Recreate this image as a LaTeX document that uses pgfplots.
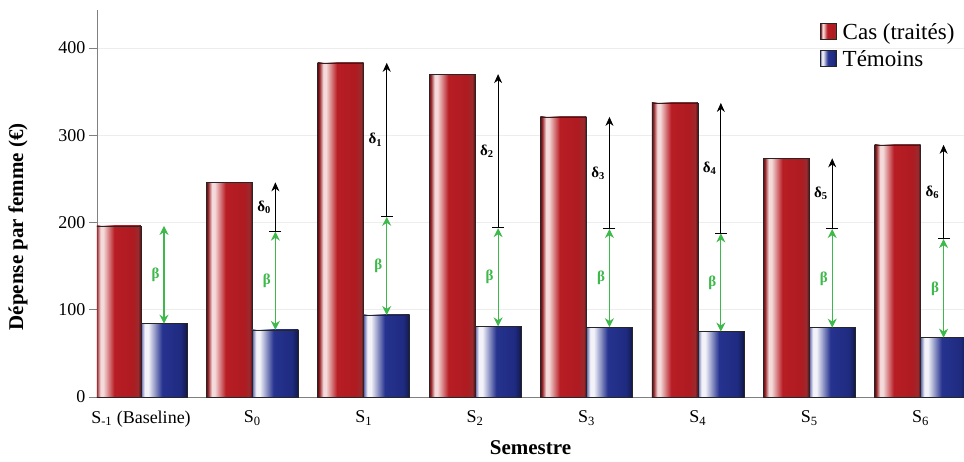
\documentclass[border=0pt]{standalone}
\usepackage{fontspec}
\setmainfont{Liberation Serif}
\usepackage{pgfplots}
\pgfplotsset{compat=1.18}
\usepackage{pgfplotstable}
\usetikzlibrary{arrows.meta}

\definecolor{rdark}{HTML}{5A0B0E}
\definecolor{rmid}{HTML}{9A2A2E}
\definecolor{rlight}{HTML}{F4DADA}
\definecolor{rmain}{HTML}{B81D24}
\definecolor{rmain2}{HTML}{AE1B21}
\definecolor{bdark}{HTML}{0E1548}
\definecolor{bmid}{HTML}{5A62A8}
\definecolor{blight}{HTML}{F2F2F8}
\definecolor{bmain}{HTML}{26338F}
\definecolor{bmain2}{HTML}{1F2B80}
\definecolor{grn}{HTML}{3DB84A}

\pgfdeclarehorizontalshading{redbar}{100bp}{color(0bp)=(rdark); color(25bp)=(rdark); color(27bp)=(rmid); color(31bp)=(rlight); color(34bp)=(rlight); color(46bp)=(rmain); color(66bp)=(rmain2); color(72bp)=(rmid); color(75bp)=(rdark); color(100bp)=(rdark)}
\pgfdeclarehorizontalshading{bluebar}{100bp}{color(0bp)=(bdark); color(25bp)=(bmid); color(29bp)=(blight); color(33bp)=(blight); color(48bp)=(bmain); color(68bp)=(bmain2); color(73bp)=(bmain2!70!black); color(75bp)=(bdark); color(100bp)=(bdark)}

\pgfplotstableread{
x y v
0.2066 84 112
1.2066 77 112.5
2.2066 94 112.5
3.2066 81 112.5
4.2066 80 112.5
5.2066 75 112.5
6.2066 79.5 113
7.2066 68 113
}\betatab

\pgfplotstableread{
x y v lab
1.2066 189.5 56.5 0
2.2066 206.5 176.5 1
3.2066 193.5 176.5 2
4.2066 192.5 128.5 3
5.2066 187.5 149.5 4
6.2066 192.5 81 5
7.2066 181 108 6
}\deltatab

\pgfplotsset{
  casbar/.style={ybar, bar width=46pt, bar shift=-23pt, draw=black!85, line width=0.5pt, shade, shading=redbar},
  tembar/.style={ybar, bar width=46pt, bar shift=23pt, draw=black!85, line width=0.5pt, shade, shading=bluebar},
}
\newcommand{\cas}[2]{\addplot[casbar, forget plot] coordinates {(#1,#2)};}
\newcommand{\tem}[2]{\addplot[tembar, forget plot] coordinates {(#1,#2)};}

\begin{document}
\begin{tikzpicture}
\begin{axis}[
  scale only axis, width=867pt, height=387pt,
  at={(0,0)}, anchor=south west,
  xmin=-0.395, xmax=7.39, ymin=0, ymax=443.5,
  axis x line=bottom, axis y line=left,
  axis line style={-, draw=black!50, line width=0.6pt},
  xtick={0,...,7},
  xticklabels={S\textsubscript{-1} (Baseline),S\textsubscript{0},S\textsubscript{1},S\textsubscript{2},S\textsubscript{3},S\textsubscript{4},S\textsubscript{5},S\textsubscript{6}},
  xtick style={draw=none},
  ytick={0,100,200,300,400},
  ytick style={draw=black!50, line width=0.6pt},
  tick align=outside, major tick length=8pt,
  ymajorgrids, grid style={draw=black!7, line width=0.6pt},
  tick label style={font=\fontsize{18}{20}\selectfont},
  /pgf/number format/assume math mode=true,
  xticklabel style={yshift=-2pt},
  xlabel={\textbf{Semestre}},
  ylabel={\textbf{Dépense par femme (€)}},
  every axis x label/.style={at={(axis description cs:0.5,-0.132)}, anchor=center, font=\fontsize{21}{24}\selectfont},
  every axis y label/.style={at={(axis description cs:-0.0911,0.44)}, anchor=center, rotate=90, font=\fontsize{21}{24}\selectfont},
  legend style={at={(axis description cs:0.995,0.975)}, anchor=north east, draw=none, fill=none, font=\fontsize{23}{26}\selectfont, row sep=5pt, /tikz/every odd column/.append style={column sep=4pt}},
  legend cell align=left,
  legend image code/.code={\draw[#1] (0pt,-7pt) rectangle (16pt,9pt);},
]
\addplot[casbar] coordinates {(0,196)};
\addlegendentry{Cas (traités)}
\addplot[tembar] coordinates {(0,84)};
\addlegendentry{Témoins}
\cas{1}{246}   \tem{1}{77}
\cas{2}{383}   \tem{2}{94}
\cas{3}{370}   \tem{3}{81}
\cas{4}{321}   \tem{4}{80}
\cas{5}{337}   \tem{5}{75}
\cas{6}{273.5} \tem{6}{79.5}
\cas{7}{289}   \tem{7}{68}

\addplot[grn, line width=1.1pt, {Stealth[length=9pt,width=9pt]}-{Stealth[length=9pt,width=9pt]}, quiver={u=0,v=\thisrow{v}}, forget plot] table[x=x,y=y] \betatab;
\addplot[black, line width=0.8pt, {Bar[width=12pt]}-{Stealth[length=9pt,width=8pt]}, quiver={u=0,v=\thisrow{v}}, forget plot] table[x=x,y=y] \deltatab;

\addplot[draw=none, mark=none, forget plot, y filter/.expression={y+0.5*\thisrow{v}}, nodes near coords={β}, every node near coord/.style={anchor=east, xshift=-1pt, text=grn, font=\fontsize{15}{16}\selectfont\bfseries}] table[x=x,y=y] \betatab;
\addplot[draw=none, mark=none, forget plot, point meta=explicit symbolic, y filter/.expression={y+0.5*\thisrow{v}}, nodes near coords={δ\textsubscript{\pgfplotspointmeta}}, every node near coord/.style={anchor=east, xshift=-1pt, text=black, font=\fontsize{15}{16}\selectfont\bfseries}] table[x=x,y=y,meta=lab] \deltatab;
\end{axis}
\pgfresetboundingbox
\path[use as bounding box] (-97pt,-64pt) rectangle (867pt,397pt);
\end{tikzpicture}
\end{document}
